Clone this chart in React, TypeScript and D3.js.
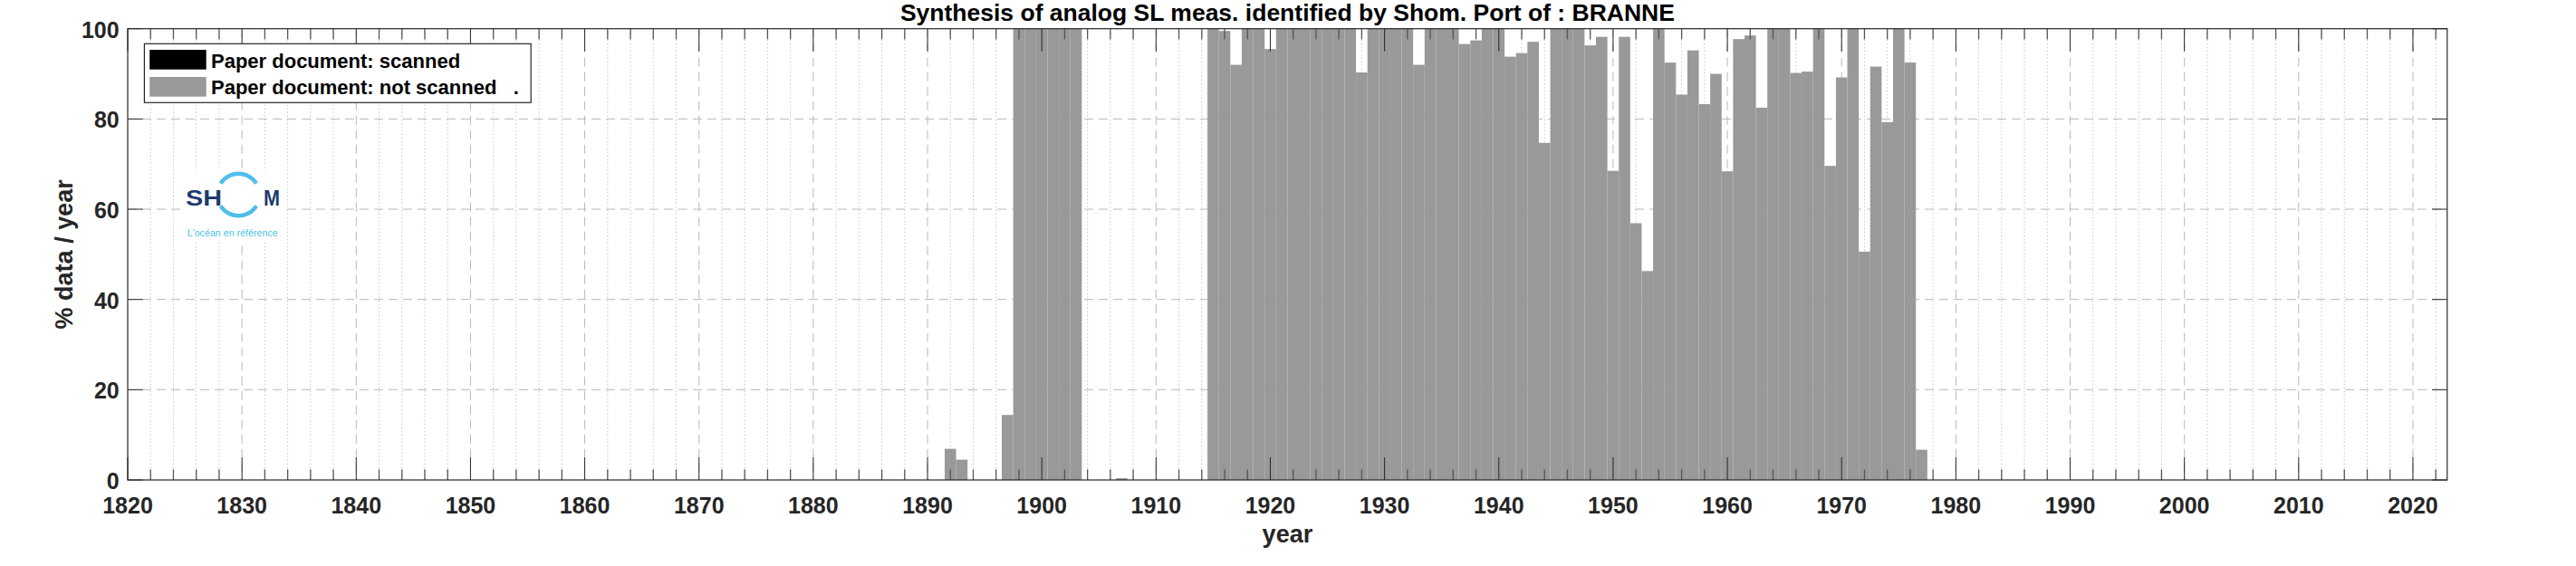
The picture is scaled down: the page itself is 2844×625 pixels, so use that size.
import React from "react";
import * as d3 from "d3";

const W = 2844;
const H = 625;

const years = [
  1892, 1893, 1897, 1898, 1899, 1900, 1901, 1902, 1903, 1907,
  1915, 1916, 1917, 1918, 1919, 1920, 1921, 1922, 1923, 1924,
  1925, 1926, 1927, 1928, 1929, 1930, 1931, 1932, 1933, 1934,
  1935, 1936, 1937, 1938, 1939, 1940, 1941, 1942, 1943, 1944,
  1945, 1946, 1947, 1948, 1949, 1950, 1951, 1952, 1953, 1954,
  1955, 1956, 1957, 1958, 1959, 1960, 1961, 1962, 1963, 1964,
  1965, 1966, 1967, 1968, 1969, 1970, 1971, 1972, 1973, 1974,
  1975, 1976, 1977,
];

const scanned = years.map(() => 0);

const notScanned = [
  6.9, 4.5, 14.4, 100, 100, 100, 100, 100, 100, 0.4,
  100, 99.5, 92.0, 100, 100, 95.5, 100, 100, 100, 100,
  100, 100, 100, 90.3, 100, 100, 100, 100, 92.0, 100,
  100, 100, 96.6, 97.4, 100, 100, 93.8, 94.6, 97.1, 74.7,
  100, 100, 100, 96.3, 98.2, 68.5, 98.2, 56.9, 46.3, 100,
  92.5, 85.4, 95.2, 83.3, 90.0, 68.4, 97.7, 98.5, 82.5, 100,
  100, 90.2, 90.5, 100, 69.6, 89.2, 100, 50.6, 91.6, 79.3,
  100, 92.5, 6.7,
];

const xMajorTicks = [1820, 1830, 1840, 1850, 1860, 1870, 1880, 1890, 1900, 1910, 1920, 1930, 1940, 1950, 1960, 1970, 1980, 1990, 2000, 2010, 2020];
const yTicks = [0, 20, 40, 60, 80, 100];

const titleText = "Synthesis of analog SL meas. identified by Shom. Port of : BRANNE";
const legendLabels = ["Paper document: scanned", "Paper document: not scanned   ."];
const xLabel = "year";
const yLabel = "% data / year";

const FONT = "'Liberation Sans', Arial, Helvetica, sans-serif";
const AX = "#262626";
const GRAY = "#999999";

export default function App() {
  const x = d3.scaleLinear().domain([1820, 2023]).range([141, 2701.8]);
  const y = d3.scaleLinear().domain([0, 100]).range([530, 31.7]);
  const [x0, x1] = x.range();
  const [yb, yt] = y.range();

  const minorTicks = d3.range(1822, 2023, 2).filter((v) => v % 10 !== 0);
  const arcTop = d3.arc()({ innerRadius: 21, outerRadius: 25.5, startAngle: (-58 * Math.PI) / 180, endAngle: (58 * Math.PI) / 180 });
  const arcBot = d3.arc()({ innerRadius: 21, outerRadius: 25.5, startAngle: (122 * Math.PI) / 180, endAngle: (238 * Math.PI) / 180 });

  return (
    <svg width={W} height={H} style={{ position: "absolute", left: 0, top: 0, display: "block", background: "#fff" }}>
      <rect x={0} y={0} width={W} height={H} fill="#fff" />
      {/* grid */}
      <g>
        {minorTicks.map((t) => (
          <line key={"mg" + t} x1={x(t)} x2={x(t)} y1={yt} y2={yb} stroke="#c4c4c4" strokeWidth={1} strokeDasharray="1.5,2.5" />
        ))}
        {xMajorTicks.filter((t) => t > 1820).map((t) => (
          <line key={"Mg" + t} x1={x(t)} x2={x(t)} y1={yt} y2={yb} stroke="#b8b8b8" strokeWidth={1} strokeDasharray="10,6" />
        ))}
        {yTicks.filter((t) => t > 0 && t < 100).map((t) => (
          <line key={"yg" + t} x1={x0} x2={x1} y1={y(t)} y2={y(t)} stroke="#b8b8b8" strokeWidth={1} strokeDasharray="10,6" />
        ))}
      </g>
      {/* bars */}
      <g>
        {years.map((yr, i) => (
          <rect key={"s" + yr} x={x(yr - 0.5)} width={x(yr + 0.5) - x(yr - 0.5)} y={y(scanned[i])} height={y(0) - y(scanned[i])} fill="#000" />
        ))}
        {years.map((yr, i) => (
          <rect key={"n" + yr} x={x(yr - 0.5)} width={x(yr + 0.5) - x(yr - 0.5)} y={y(scanned[i] + notScanned[i])} height={y(scanned[i]) - y(scanned[i] + notScanned[i])} fill={GRAY} />
        ))}
      </g>
      {/* ticks */}
      <g>
        {minorTicks.map((t) => (
          <g key={"mt" + t}>
            <line x1={x(t)} x2={x(t)} y1={yb} y2={yb - 11.7} stroke="#555" strokeWidth={1.3} />
            <line x1={x(t)} x2={x(t)} y1={yt} y2={yt + 11.7} stroke="#555" strokeWidth={1.3} />
          </g>
        ))}
        {xMajorTicks.map((t) => (
          <g key={"Mt" + t}>
            <line x1={x(t)} x2={x(t)} y1={yb} y2={yb - 25} stroke={AX} strokeWidth={1} />
            <line x1={x(t)} x2={x(t)} y1={yt} y2={yt + 25} stroke={AX} strokeWidth={1} />
            <text x={x(t)} y={566.5} textAnchor="middle" fontFamily={FONT} fontWeight="bold" fontSize={25} fill={AX}>{t}</text>
          </g>
        ))}
        {yTicks.map((t) => (
          <g key={"yt" + t}>
            <line x1={x0} x2={x0 + 16.7} y1={y(t)} y2={y(t)} stroke={AX} strokeWidth={1} />
            <line x1={x1} x2={x1 - 16.7} y1={y(t)} y2={y(t)} stroke={AX} strokeWidth={1} />
            <text x={131.7} y={y(t) + 10} textAnchor="end" fontFamily={FONT} fontWeight="bold" fontSize={25} fill={AX}>{t}</text>
          </g>
        ))}
      </g>
      {/* axes box */}
      <rect x={x0} y={yt} width={x1 - x0} height={yb - yt} fill="none" stroke={AX} strokeWidth={1.2} />
      {/* title & labels */}
      <text x={(x0 + x1) / 2} y={23} textAnchor="middle" fontFamily={FONT} fontWeight="bold" fontSize={26.5} fill="#000">{titleText}</text>
      <text x={(x0 + x1) / 2} y={599} textAnchor="middle" fontFamily={FONT} fontWeight="bold" fontSize={27} fill={AX}>{xLabel}</text>
      <text transform={`translate(80,${(yt + yb) / 2}) rotate(-90)`} textAnchor="middle" fontFamily={FONT} fontWeight="bold" fontSize={27} fill={AX}>{yLabel}</text>
      {/* legend */}
      <g>
        <rect x={159.4} y={48.3} width={426.8} height={65} fill="#fff" stroke={AX} strokeWidth={1.2} />
        <rect x={165.2} y={55} width={62.5} height={21.7} fill="#000" />
        <rect x={165.2} y={85} width={62.5} height={21.7} fill={GRAY} />
        <text x={233} y={74.5} fontFamily={FONT} fontWeight="bold" fontSize={22} fill="#000" style={{ whiteSpace: "pre" }}>{legendLabels[0]}</text>
        <text x={233} y={104.3} fontFamily={FONT} fontWeight="bold" fontSize={22} fill="#000" style={{ whiteSpace: "pre" }}>{legendLabels[1]}</text>
      </g>
      {/* SHOM logo */}
      <g>
        <rect x={200} y={188.3} width={111.7} height={78.4} fill="#fff" />
        <path d={arcTop || ""} transform="translate(263.3,215)" fill="#4ebfe8" />
        <path d={arcBot || ""} transform="translate(263.3,215)" fill="#4ebfe8" />
        <text x={205} y={226.7} fontFamily={FONT} fontWeight="bold" fontSize={24} fill="#1d3b6e" textLength={40} lengthAdjust="spacingAndGlyphs">SH</text>
        <text x={291} y={226.7} fontFamily={FONT} fontWeight="bold" fontSize={24} fill="#1d3b6e" textLength={18} lengthAdjust="spacingAndGlyphs">M</text>
        <text x={206.7} y={261} fontFamily={FONT} fontSize={10.5} fill="#4ebfe8" textLength={100} lengthAdjust="spacingAndGlyphs">L'océan en référence</text>
      </g>
    </svg>
  );
}
